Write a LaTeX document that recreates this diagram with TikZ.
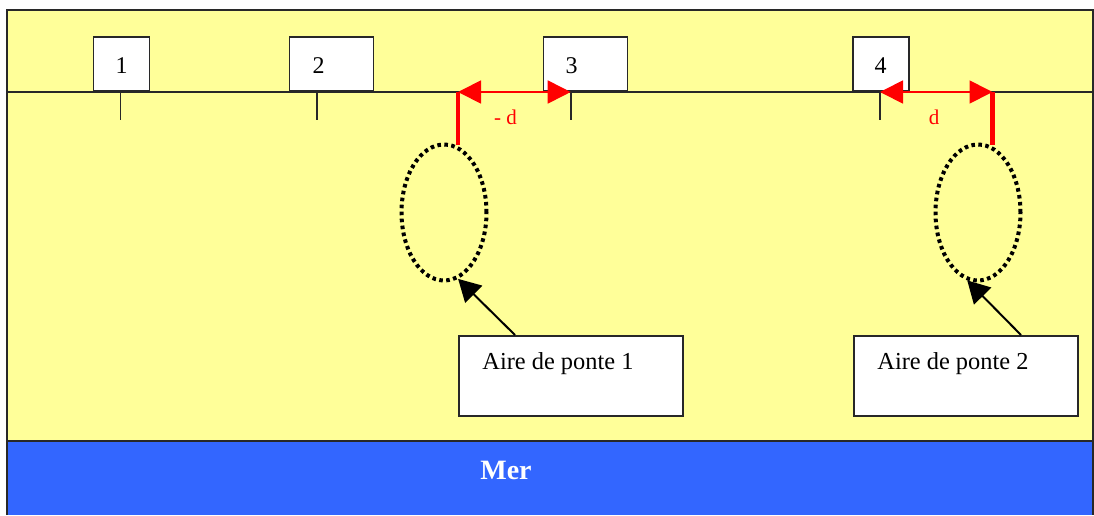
\documentclass[tikz,border=0pt]{standalone}
\usepackage{fontspec}
\setmainfont{Liberation Serif}
\usetikzlibrary{arrows.meta,shapes.geometric}
\definecolor{sand}{RGB}{255,255,153}
\definecolor{sea}{RGB}{51,102,255}
\definecolor{edge}{RGB}{40,40,40}
\definecolor{vivid}{RGB}{255,0,0}
\begin{document}
\begin{tikzpicture}[x=0.5pt,y=-0.5pt,
  outline/.style={draw=edge,line width=0.8pt},
  house/.style={draw=edge,fill=white,line width=0.8pt,inner sep=0pt},
  num/.style={anchor=base,inner sep=0pt,font=\fontsize{12}{14}\selectfont},
  areatext/.style={anchor=base west,inner sep=0pt,font=\fontsize{12.2}{14}\selectfont},
  zone/.style={ellipse,draw=black,inner sep=0pt,minimum width=42.5pt,minimum height=68pt,
    line width=2pt,dash pattern=on 1.8pt off 1.7pt},
  span/.style={draw=vivid,line width=0.9pt,{Triangle[length=11.5pt,width=11.5pt]}-{Triangle[length=11.5pt,width=11.5pt]}},
  post/.style={draw=vivid,line width=2.4pt},
  pointer/.style={draw=black,line width=1pt,-{Triangle[length=11pt,width=12pt]}},
  dlabel/.style={anchor=base,inner sep=0pt,text=vivid,font=\fontsize{10.5}{12}\selectfont}]
\useasboundingbox (0,0) rectangle (1094,515);
% land and sea
\fill[sand] (7,10) rectangle (1094,441);
\fill[sea] (7,441) rectangle (1094,515);
\draw[outline] (7,515) -- (7,10) -- (1093,10) -- (1093,515);
\draw[outline] (7,441) -- (1094,441);
% coast line
\draw[outline] (7,92) -- (1094,92);
% houses
\node[house,minimum width=28pt,minimum height=27pt,anchor=south west] (b1) at (92.5,92) {};
\node[house,minimum width=42pt,minimum height=27pt,anchor=south west] (b2) at (288.7,92) {};
\node[house,minimum width=42pt,minimum height=27pt,anchor=south west] (b3) at (542.7,92) {};
\node[house,minimum width=28pt,minimum height=27pt,anchor=south west] (b4) at (852.3,92) {};
\node[num] (n1) at (121.5,73) {1};
\node[num] (n2) at (318.5,73) {2};
\node[num] (n3) at (571.5,73) {3};
\node[num] (n4) at (880.5,73) {4};
% ticks
\coordinate (k1) at (120.3,92);
\coordinate (k2) at (316.7,92);
\coordinate (k3) at (570.7,92);
\coordinate (k4) at (880,92);
\coordinate (k1b) at (120.3,119.5);
\coordinate (k2b) at (316.7,119.5);
\coordinate (k3b) at (570.7,119.5);
\coordinate (k4b) at (880,119.5);
\draw[outline] (k1) -- (k1b) (k2) -- (k2b) (k3) -- (k3b) (k4) -- (k4b);
% nesting areas
\node[zone] (e1) at (444,212.5) {};
\node[zone] (e2) at (978,212.5) {};
% red markers
\coordinate (r1) at (458,92);
\coordinate (r1b) at (458,145);
\coordinate (r2) at (992.5,92);
\coordinate (r2b) at (992.5,145);
\draw[post] (r1) -- (r1b);
\draw[post] (r2) -- (r2b);
\draw[span] (r1) -- (k3);
\draw[span] (k4) -- (r2);
\node[dlabel] (d1) at (505.5,124) {- d};
\node[dlabel] (d2) at (934,124) {d};
% callouts
\node[house,minimum width=112pt,minimum height=40pt,anchor=north west] (a1) at (458,335) {};
\node[house,minimum width=112pt,minimum height=40pt,anchor=north west] (a2) at (853,335) {};
\node[areatext] (t1) at (482,369) {Aire de ponte 1};
\node[areatext] (t2) at (877,369) {Aire de ponte 2};
\draw[pointer] ([xshift=28.5pt]a1.north west) -- (e1.-78);
\draw[pointer] ([xshift=84pt]a2.north west) -- (e2.-99);
% sea label
\node[anchor=base,inner sep=0pt,text=white,font=\fontsize{14}{16}\selectfont\bfseries] (mer) at (506,479) {Mer};
\end{tikzpicture}
\end{document}
